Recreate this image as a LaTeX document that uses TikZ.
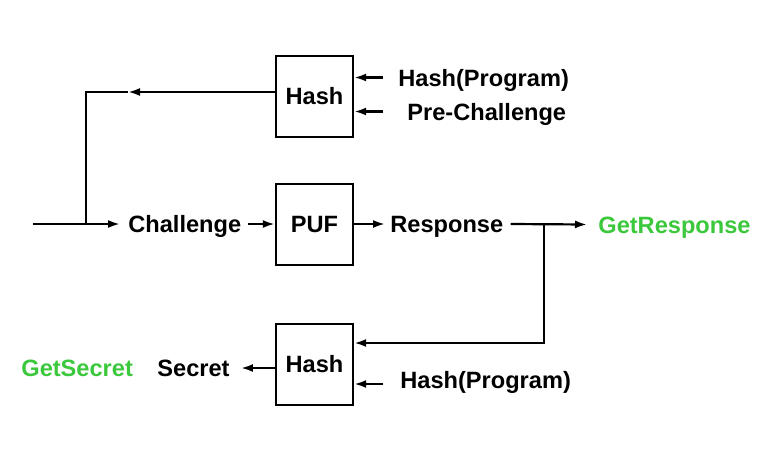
\documentclass[tikz,border=0pt]{standalone}
\usepackage{fontspec}
\setmainfont{Liberation Sans}
\usetikzlibrary{arrows.meta}
\definecolor{getgreen}{RGB}{60,200,60}
\tikzset{
        blk/.style={draw,line width=1.2pt,minimum width=38.5pt,minimum height=40.5pt,inner sep=0pt},
        lbl/.style={inner sep=0pt,text height=8.5pt,text depth=0pt,anchor=west},
        wire/.style={line width=1.1pt},
        arr/.style={line width=1.1pt,-{Latex[length=6pt,width=4pt]}}
    }
\begin{document}
\begin{tikzpicture}[x=0.5pt,y=-0.5pt,font=\fontsize{11.8}{14}\selectfont\bfseries]
\useasboundingbox (0,0) rectangle (777,451);

\draw (314.5,96.5) node(HTOP)[blk]{Hash};
\draw (314.5,224.5) node(PUF)[blk]{PUF};
\draw (314.5,364.5) node(HBOT)[blk]{Hash};

\draw (398,77.5) node(HPTOP)[lbl]{Hash(Program)};
\draw (407,111.5) node(PRE)[lbl]{Pre-Challenge};
\draw (128,224) node(CH)[lbl]{Challenge};
\draw (390,224) node(RESP)[lbl]{Response};
\draw (598,224.5) node(GETR)[lbl,text=getgreen]{GetResponse};
\draw (400,380) node(HPBOT)[lbl]{Hash(Program)};
\draw (157,368) node(SEC)[lbl]{Secret};
\draw (21,368) node(GETS)[lbl,text=getgreen]{GetSecret};

\coordinate (IN) at (33,224);
\coordinate (TURN) at (86,92);
\coordinate (TIP) at (128,92);
\coordinate (DROP) at (544,224);

\draw[arr] ([xshift=-7.5pt]HPTOP.west) -- (HTOP.east |- HPTOP.west);
\draw[arr] ([xshift=-12pt]PRE.west) -- (HTOP.east |- PRE.west);
\draw[arr] (HTOP.west |- TIP) -- (TIP);
\draw[wire] (TIP) -- (TURN) -- (TURN |- IN);
\draw[arr] (IN) -- ([xshift=-4pt]CH.west);
\draw[arr] ([xshift=3.3pt]CH.east) -- (PUF.west |- CH.east);
\draw[arr] (PUF.east |- RESP.west) -- ([xshift=-2.5pt]RESP.west);
\draw[arr] ([xshift=3.5pt]RESP.east) -- ([xshift=-5.5pt]GETR.west);
\draw[arr] (DROP) |- ([yshift=10.75pt]HBOT.east);
\draw[arr] ([shift={(-17,4)}]HPBOT.west) -- ([yshift=-9.75pt]HBOT.east);
\draw[arr] (HBOT.west |- SEC.east) -- ([xshift=5.5pt]SEC.east);

\end{tikzpicture}
\end{document}
